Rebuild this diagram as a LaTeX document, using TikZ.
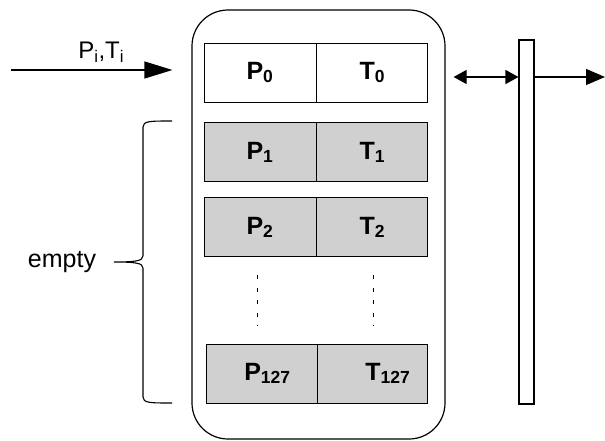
\documentclass[tikz,border=0pt]{standalone}
\usepackage{fontspec}
\setmainfont{Liberation Sans}
\usetikzlibrary{positioning,arrows.meta}
\definecolor{cellgray}{RGB}{208,208,208}
\tikzset{
  cell/.style={draw, line width=0.9pt, minimum height=59pt, inner sep=0pt,
    font=\fontsize{25}{30}\selectfont\bfseries},
  pcell/.style={cell, minimum width=112pt},
  tcell/.style={cell, minimum width=111pt},
  fullcell/.style={fill=cellgray},
  dotline/.style={line width=1pt, dash pattern=on 4pt off 8.5pt},
  bigarrow/.style={line width=1.2pt, -{Triangle[length=28pt,width=17pt]}},
}
\begin{document}
\begin{tikzpicture}[x=1pt, y=-1pt]
    \useasboundingbox (0,0) rectangle (605,441);
    \node[draw, line width=1.2pt, rounded corners=36pt, minimum width=253pt, minimum height=429pt] (buffer) at (318.5,224.5) {};
    \node[draw, line width=1.1pt, minimum width=15pt, minimum height=364pt, inner sep=0pt] (bus) at (526.5,222) {};
    % table rows
    \node[pcell] (p0) at (260,72.5) {P\textsubscript{0}};
    \node[tcell, right=0pt of p0] (t0) {T\textsubscript{0}};
    \node[pcell, fullcell, below=20pt of p0] (p1) {P\textsubscript{1}};
    \node[tcell, fullcell, right=0pt of p1] (t1) {T\textsubscript{1}};
    \node[pcell, fullcell, below=15pt of p1] (p2) {P\textsubscript{2}};
    \node[tcell, fullcell, right=0pt of p2] (t2) {T\textsubscript{2}};
    \node[tcell, fullcell, minimum width=111pt] (p127) at (261.5,373.5) {\hspace{12pt}P\textsubscript{127}};
    \node[tcell, fullcell, minimum width=110pt, right=0pt of p127] (t127) {\hspace{30pt}T\textsubscript{127}};
    \draw[dotline] ([xshift=-3pt, yshift=-18pt]p2.south) -- ([xshift=-4.5pt, yshift=18pt]p127.north);
    \draw[dotline] ([xshift=1.5pt, yshift=-18pt]t2.south) -- ([xshift=1pt, yshift=18pt]t127.north);
    % input and output
    \coordinate (in) at (11,70);
    \coordinate (out) at (605,77);
    \draw[bigarrow, shorten >=19pt] (in) -- node[above=4pt, font=\fontsize{24}{28}\selectfont] {P\textsubscript{i},T\textsubscript{i}} (in -| buffer.west);
    \draw[line width=1.2pt, {Triangle[length=13pt,width=14pt]}-{Triangle[length=13pt,width=14pt]}, shorten <=8pt] (buffer.east |- out) -- (bus.west |- out);
    \draw[line width=1.2pt, -{Triangle[length=19pt,width=16pt]}] (bus.east |- out) -- (out);
    % brace
    \node[font=\fontsize{25}{30}\selectfont] (empty) at (62,262) {empty};
    \draw[line width=1.1pt] (172,121) .. controls (150,121) and (143,121) .. (143,127) -- (143,256)
        .. controls (143,261) and (135,262) .. (114,262)
        .. controls (135,262) and (143,263) .. (143,268) -- (143,397)
        .. controls (143,403) and (150,403) .. (172,403);
\end{tikzpicture}
\end{document}
